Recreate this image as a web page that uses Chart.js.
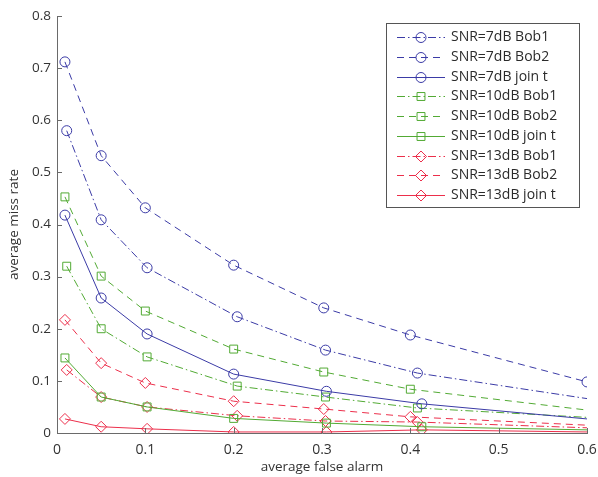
<!DOCTYPE html>
<html>
<head>
<meta charset="utf-8">
<script src="https://cdn.jsdelivr.net/npm/chart.js@4/dist/chart.umd.min.js"></script>
<style>
  html, body { margin: 0; padding: 0; background: #fff; }
  #wrap { width: 598px; height: 477px; position: relative; }
</style>
</head>
<body>
<div id="wrap"><canvas id="c"></canvas></div>
<script>
// False-alarm operating points (x) for each detector type
const faBob2 = [0.009, 0.05, 0.1, 0.2, 0.302, 0.4, 0.6];
const faBob1 = [0.011, 0.05, 0.102, 0.204, 0.304, 0.408, 0.6];
const faJoin = [0.009, 0.05, 0.102, 0.2, 0.305, 0.413, 0.6];

// Average miss rate per SNR and detector
const snr7Bob1  = [0.580, 0.409, 0.317, 0.223, 0.159, 0.115, 0.066];
const snr7Bob2  = [0.712, 0.532, 0.432, 0.322, 0.240, 0.188, 0.098];
const snr7Join  = [0.418, 0.259, 0.190, 0.113, 0.080, 0.056, 0.027];
const snr10Bob1 = [0.320, 0.200, 0.146, 0.090, 0.069, 0.048, 0.030];
const snr10Bob2 = [0.453, 0.301, 0.234, 0.161, 0.117, 0.084, 0.044];
const snr10Join = [0.144, 0.069, 0.050, 0.028, 0.019, 0.012, 0.006];
const snr13Bob1 = [0.121, 0.069, 0.050, 0.033, 0.023, 0.021, 0.010];
const snr13Bob2 = [0.217, 0.134, 0.096, 0.061, 0.046, 0.031, 0.015];
const snr13Join = [0.027, 0.012, 0.008, 0.002, 0.002, 0.006, 0.002];

const seriesLabels = [
  'SNR=7dB Bob1', 'SNR=7dB Bob2', 'SNR=7dB join t',
  'SNR=10dB Bob1', 'SNR=10dB Bob2', 'SNR=10dB join t',
  'SNR=13dB Bob1', 'SNR=13dB Bob2', 'SNR=13dB join t'
];
const xTicks = [0, 0.1, 0.2, 0.3, 0.4, 0.5, 0.6];
const yTicks = [0, 0.1, 0.2, 0.3, 0.4, 0.5, 0.6, 0.7, 0.8];

const BLUE = '#3b3ba6', GREEN = '#52aa34', RED = '#ec2f4b';
const DASH = [7, 5], DASHDOT = [8, 3, 1.5, 3], SOLID = [];

function pts(xs, ys) { return xs.map((x, i) => ({ x: x, y: ys[i] })); }

const specs = [
  { y: snr7Bob1,  x: faBob1, c: BLUE,  d: DASHDOT, s: 'circle',  last: false },
  { y: snr7Bob2,  x: faBob2, c: BLUE,  d: DASH,    s: 'circle',  last: true  },
  { y: snr7Join,  x: faJoin, c: BLUE,  d: SOLID,   s: 'circle',  last: false },
  { y: snr10Bob1, x: faBob1, c: GREEN, d: DASHDOT, s: 'rect',    last: false },
  { y: snr10Bob2, x: faBob2, c: GREEN, d: DASH,    s: 'rect',    last: false },
  { y: snr10Join, x: faJoin, c: GREEN, d: SOLID,   s: 'rect',    last: false },
  { y: snr13Bob1, x: faBob1, c: RED,   d: DASHDOT, s: 'rectRot', last: false },
  { y: snr13Bob2, x: faBob2, c: RED,   d: DASH,    s: 'rectRot', last: false },
  { y: snr13Join, x: faJoin, c: RED,   d: SOLID,   s: 'rectRot', last: false }
];

const markerSize = { circle: 5, rect: 5.6, rectRot: 5.5 };

const datasets = specs.map((s, k) => ({
  label: seriesLabels[k],
  data: pts(s.x, s.y),
  borderColor: s.c,
  borderWidth: 1,
  borderDash: s.d,
  pointStyle: s.s,
  pointRadius: s.y.map((v, i) => (i === s.y.length - 1 && !s.last) ? 0 : markerSize[s.s]),
  pointBorderColor: s.c,
  pointBackgroundColor: 'rgba(0,0,0,0)',
  pointBorderWidth: 1,
  tension: 0,
  fill: false
}));

// Inward tick marks along the left and bottom axes
const innerTicks = {
  id: 'innerTicks',
  afterDraw(chart) {
    const ctx = chart.ctx, xs = chart.scales.x, ys = chart.scales.y;
    const a = chart.chartArea;
    ctx.save();
    ctx.strokeStyle = '#6a6a6a';
    ctx.lineWidth = 1;
    ctx.beginPath();
    xTicks.forEach(v => {
      const p = Math.round(xs.getPixelForValue(v)) + 0.5;
      ctx.moveTo(p, a.bottom); ctx.lineTo(p, a.bottom - 5);
    });
    yTicks.forEach(v => {
      const p = Math.round(ys.getPixelForValue(v)) + 0.5;
      ctx.moveTo(a.left, p); ctx.lineTo(a.left + 5, p);
    });
    ctx.stroke();
    ctx.restore();
  }
};

// Boxed legend drawn inside the plot, top right
const boxLegend = {
  id: 'boxLegend',
  afterDraw(chart) {
    const ctx = chart.ctx;
    const bx = 386.5, by = 23.5, bw = 193, bh = 184;
    ctx.save();
    ctx.fillStyle = '#fff';
    ctx.fillRect(bx, by, bw, bh);
    ctx.strokeStyle = '#555';
    ctx.lineWidth = 1;
    ctx.setLineDash([]);
    ctx.strokeRect(bx, by, bw, bh);
    ctx.font = "14px 'Open Sans', sans-serif";
    ctx.textBaseline = 'middle';
    ctx.textAlign = 'left';
    chart.data.datasets.forEach((ds, i) => {
      const y = Math.round(37 + i * 19.75) + 0.5;
      ctx.strokeStyle = ds.borderColor;
      ctx.lineWidth = 1;
      ctx.setLineDash(ds.borderDash);
      ctx.beginPath();
      ctx.moveTo(397, y); ctx.lineTo(445, y);
      ctx.stroke();
      ctx.setLineDash([]);
      const cx = 421, r = markerSize[ds.pointStyle];
      ctx.beginPath();
      if (ds.pointStyle === 'circle') {
        ctx.arc(cx, y, r, 0, Math.PI * 2);
      } else if (ds.pointStyle === 'rect') {
        const h = r * Math.SQRT1_2;
        ctx.rect(cx - h, y - h, 2 * h, 2 * h);
      } else {
        ctx.moveTo(cx - r, y); ctx.lineTo(cx, y - r);
        ctx.lineTo(cx + r, y); ctx.lineTo(cx, y + r); ctx.closePath();
      }
      ctx.stroke();
      ctx.fillStyle = '#2b2b2b';
      ctx.fillText(ds.label, 451, y);
    });
    ctx.restore();
  }
};

Chart.defaults.font.family = "'Open Sans', sans-serif";
Chart.defaults.color = '#333';

new Chart(document.getElementById('c'), {
  type: 'line',
  data: { datasets: datasets },
  options: {
    responsive: true,
    maintainAspectRatio: false,
    animation: false,
    layout: { autoPadding: false, padding: { left: 0, right: 11, top: 16, bottom: 0 } },
    plugins: { legend: { display: false }, tooltip: { enabled: false } },
    scales: {
      x: {
        type: 'linear', min: 0, max: 0.6,
        afterBuildTicks(scale) { scale.ticks = xTicks.map(v => ({ value: v })); },
        afterFit(scale) { scale.height = 44; scale.paddingLeft = 0; scale.paddingRight = 0; },
        ticks: {
          font: { size: 14 }, color: '#333', padding: 9,
          callback: v => String(Math.round(v * 10) / 10)
        },
        grid: { drawOnChartArea: false, drawTicks: false },
        border: { display: true, color: '#6a6a6a' },
        title: { display: true, text: 'average false alarm', font: { size: 13.5 }, color: '#333', padding: { top: 0, bottom: 2 } }
      },
      y: {
        type: 'linear', min: 0, max: 0.8,
        afterBuildTicks(scale) { scale.ticks = yTicks.map(v => ({ value: v })); },
        afterFit(scale) { scale.width = 57; scale.paddingTop = 0; scale.paddingBottom = 0; },
        ticks: {
          font: { size: 13.5 }, color: '#333', padding: 6,
          callback: v => String(Math.round(v * 10) / 10)
        },
        grid: { drawOnChartArea: false, drawTicks: false },
        border: { display: true, color: '#6a6a6a' },
        title: { display: true, text: 'average miss rate', font: { size: 13.5 }, color: '#333', padding: { top: 6, bottom: 0 } }
      }
    }
  },
  plugins: [innerTicks, boxLegend]
});
</script>
</body>
</html>
